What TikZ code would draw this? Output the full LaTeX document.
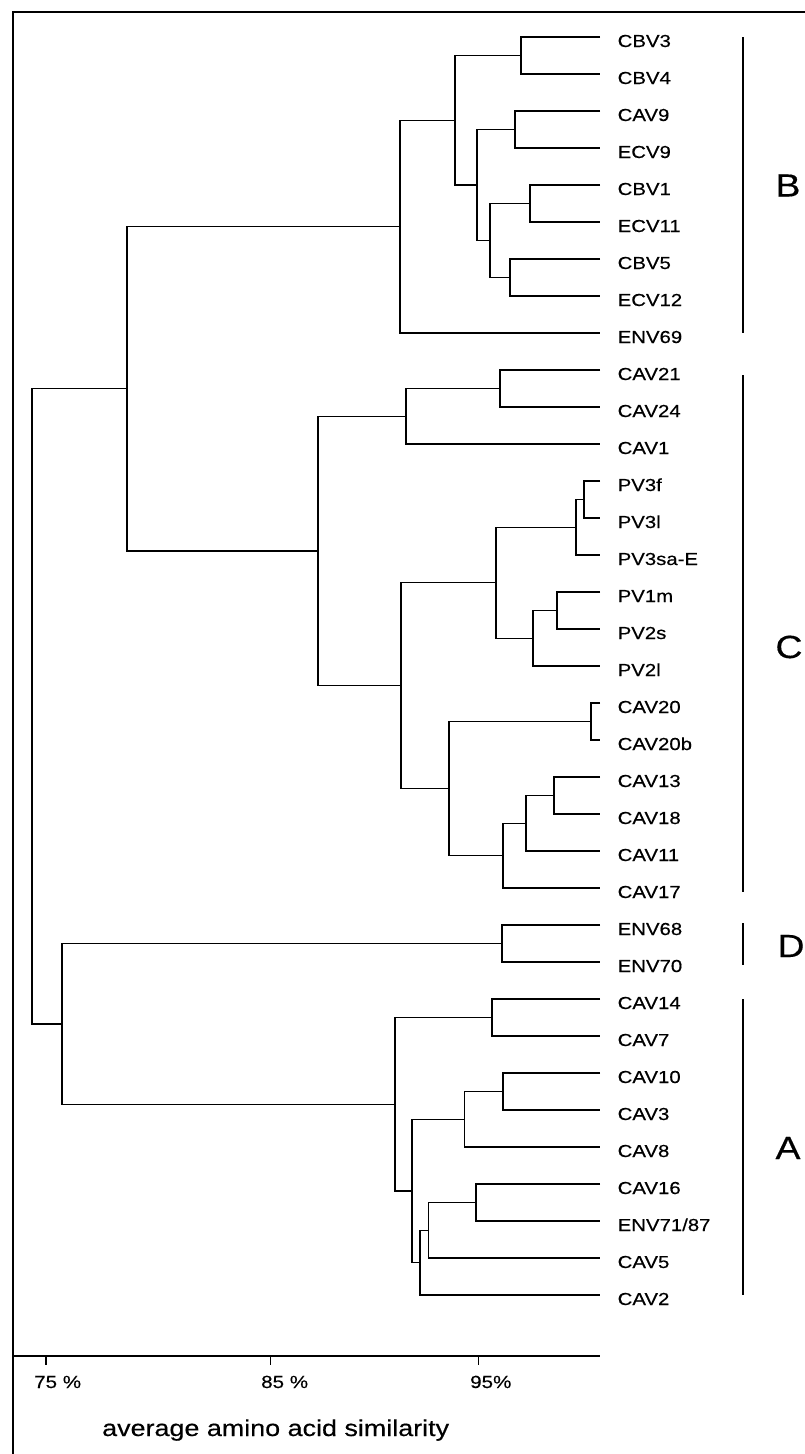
\documentclass[tikz,border=0pt]{standalone}
\usepackage{fontspec}
\setmainfont{Liberation Sans}[FakeStretch=1.17, FakeBold=0.4]
\usepackage{tikz}
\usetikzlibrary{positioning,calc}

\begin{document}
\begin{tikzpicture}[x=1pt,y=-1pt,
    branch/.style={line width=1.3pt},
    leaf/.style={anchor=west, inner xsep=17.5pt, inner ysep=0pt, text height=20pt, text depth=0pt, font=\fontsize{17.4}{19}\selectfont},
    group/.style={anchor=base, inner sep=0pt, font=\fontsize{32}{34}\selectfont},
    tick/.style={anchor=base west, inner sep=0pt, font=\fontsize{17.6}{19}\selectfont}]
    \useasboundingbox (0,0) rectangle (805,1454);

    % Frame and axis
    \draw[line width=1.6pt] (805,12) -- (13,12) -- (13,1454);
    \draw[line width=1.3pt] (13,1356) -- (600,1356);
    \draw[line width=1.2pt] (46,1356) -- (46,1365);
    \draw[line width=1.2pt] (270.5,1356) -- (270.5,1365);
    \draw[line width=1.2pt] (478.5,1356) -- (478.5,1365);
    \node[tick] (t75) at (34,1388) {75 \%};
    \node[tick] (t85) at (261,1388) {85 \%};
    \node[tick] (t95) at (470,1388) {95\%};
    \node[anchor=base west, inner sep=0pt, font=\fontsize{23}{26}\selectfont] (xlabel) at (102,1436) {average amino acid similarity};

    % Leaves
    \node[leaf] (cbv3) at (600,37) {CBV3};
    \node[leaf] (cbv4) at (600,74) {CBV4};
    \node[leaf] (cav9) at (600,111) {CAV9};
    \node[leaf] (ecv9) at (600,148) {ECV9};
    \node[leaf] (cbv1) at (600,185) {CBV1};
    \node[leaf] (ecv11) at (600,222) {ECV11};
    \node[leaf] (cbv5) at (600,259) {CBV5};
    \node[leaf] (ecv12) at (600,296) {ECV12};
    \node[leaf] (env69) at (600,333) {ENV69};
    \node[leaf] (cav21) at (600,370) {CAV21};
    \node[leaf] (cav24) at (600,407) {CAV24};
    \node[leaf] (cav1) at (600,444) {CAV1};
    \node[leaf] (pv3f) at (600,481) {PV3f};
    \node[leaf] (pv3l) at (600,518) {PV3l};
    \node[leaf] (pv3sa) at (600,555) {PV3sa-E};
    \node[leaf] (pv1m) at (600,592) {PV1m};
    \node[leaf] (pv2s) at (600,629) {PV2s};
    \node[leaf] (pv2l) at (600,666) {PV2l};
    \node[leaf] (cav20) at (600,703) {CAV20};
    \node[leaf] (cav20b) at (600,740) {CAV20b};
    \node[leaf] (cav13) at (600,777) {CAV13};
    \node[leaf] (cav18) at (600,814) {CAV18};
    \node[leaf] (cav11) at (600,851) {CAV11};
    \node[leaf] (cav17) at (600,888) {CAV17};
    \node[leaf] (env68) at (600,925) {ENV68};
    \node[leaf] (env70) at (600,962) {ENV70};
    \node[leaf] (cav14) at (600,999) {CAV14};
    \node[leaf] (cav7) at (600,1036) {CAV7};
    \node[leaf] (cav10) at (600,1073) {CAV10};
    \node[leaf] (cav3) at (600,1110) {CAV3};
    \node[leaf] (cav8) at (600,1147) {CAV8};
    \node[leaf] (cav16) at (600,1184) {CAV16};
    \node[leaf] (env71) at (600,1221) {ENV71/87};
    \node[leaf] (cav5) at (600,1258) {CAV5};
    \node[leaf] (cav2) at (600,1295) {CAV2};

    % Cluster B
    \coordinate (b1) at (521,55.5);
    \coordinate (b2) at (515,129.5);
    \coordinate (b3) at (530,203.5);
    \coordinate (b4) at (510,277.5);
    \coordinate (b5) at (490,240.5);
    \coordinate (b6) at (477,185);
    \coordinate (b7) at (455,120.25);
    \coordinate (b8) at (400,226.6);
    \draw[branch] (cbv3.west) -| (b1) |- (cbv4.west);
    \draw[branch] (cav9.west) -| (b2) |- (ecv9.west);
    \draw[branch] (cbv1.west) -| (b3) |- (ecv11.west);
    \draw[branch] (cbv5.west) -| (b4) |- (ecv12.west);
    \draw[branch] (b3) -| (b5) |- (b4);
    \draw[branch] (b2) -| (b6) |- (b5);
    \draw[branch] (b1) -| (b7) |- (b6);
    \draw[branch] (b7) -| (b8) |- (env69.west);

    % Cluster C
    \coordinate (c1) at (500,388.5);
    \coordinate (c2) at (406,416.25);
    \coordinate (c3) at (584,499.5);
    \coordinate (c4) at (576,527.25);
    \coordinate (c5) at (557,610.5);
    \coordinate (c6) at (533,638.25);
    \coordinate (c7) at (496,582.75);
    \coordinate (c8) at (591,721.5);
    \coordinate (c9) at (554,795.5);
    \coordinate (c10) at (526,823.25);
    \coordinate (c11) at (503,855.6);
    \coordinate (c12) at (449,788.6);
    \coordinate (c13) at (401,685.7);
    \coordinate (c14) at (318,551);
    \draw[branch] (cav21.west) -| (c1) |- (cav24.west);
    \draw[branch] (c1) -| (c2) |- (cav1.west);
    \draw[branch] (pv3f.west) -| (c3) |- (pv3l.west);
    \draw[branch] (c3) -| (c4) |- (pv3sa.west);
    \draw[branch] (pv1m.west) -| (c5) |- (pv2s.west);
    \draw[branch] (c5) -| (c6) |- (pv2l.west);
    \draw[branch] (c4) -| (c7) |- (c6);
    \draw[branch] (cav20.west) -| (c8) |- (cav20b.west);
    \draw[branch] (cav13.west) -| (c9) |- (cav18.west);
    \draw[branch] (c9) -| (c10) |- (cav11.west);
    \draw[branch] (c10) -| (c11) |- (cav17.west);
    \draw[branch] (c8) -| (c12) |- (c11);
    \draw[branch] (c7) -| (c13) |- (c12);
    \draw[branch] (c2) -| (c14) |- (c13);

    % Cluster D and A
    \coordinate (d1) at (502,943.5);
    \coordinate (a1) at (492,1017.5);
    \coordinate (a2) at (503,1091.5);
    \coordinate (a3) at (464.6,1119.25);
    \coordinate (a4) at (476,1202.5);
    \coordinate (a5) at (428.6,1230.25);
    \coordinate (a6) at (420,1262.6);
    \coordinate (a7) at (412,1190.9);
    \coordinate (a8) at (395,1104.2);
    \draw[branch] (env68.west) -| (d1) |- (env70.west);
    \draw[branch] (cav14.west) -| (a1) |- (cav7.west);
    \draw[branch] (cav10.west) -| (a2) |- (cav3.west);
    \draw[branch] (a2) -| (a3) |- (cav8.west);
    \draw[branch] (cav16.west) -| (a4) |- (env71.west);
    \draw[branch] (a4) -| (a5) |- (cav5.west);
    \draw[branch] (a5) -| (a6) |- (cav2.west);
    \draw[branch] (a3) -| (a7) |- (a6);
    \draw[branch] (a1) -| (a8) |- (a7);

    % Root
    \coordinate (bc) at (127,388.8);
    \coordinate (ad) at (62,1023.9);
    \coordinate (root) at (32,706.3);
    \draw[branch] (b8) -| (bc) |- (c14);
    \draw[branch] (d1) -| (ad) |- (a8);
    \draw[branch] (bc) -| (root) |- (ad);

    % Group bars
    \draw[line width=1.3pt] (743,37) -- (743,333);
    \draw[line width=1.3pt] (743,375) -- (743,892);
    \draw[line width=1.3pt] (743,923) -- (743,965);
    \draw[line width=1.3pt] (743,999) -- (743,1295);
    \node[group] (gB) at (788,196.5) {B};
    \node[group] (gC) at (789,658) {C};
    \node[group] (gD) at (791,957) {D};
    \node[group] (gA) at (788,1159) {A};
\end{tikzpicture}
\end{document}
